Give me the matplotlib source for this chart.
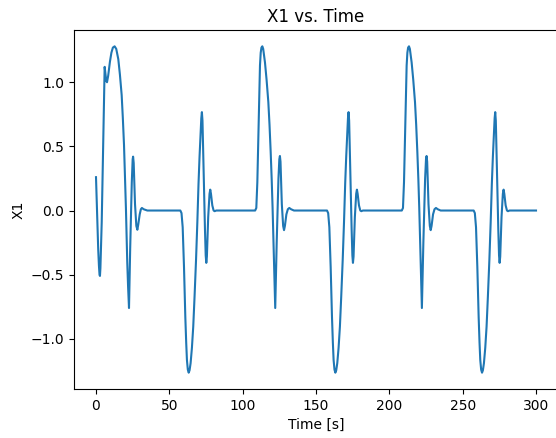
import matplotlib
matplotlib.use("Agg")
import matplotlib.pyplot as plt

# values, one block per event
time_s = [
    # start-up and first positive swing
    0, 0.5, 0.9, 1.5, 2.0, 2.4, 2.7, 3.0, 3.5, 3.9, 4.5, 5.0, 5.5, 5.9, 6.3, 7.0,
    7.5, 8.3, 9.5, 10.5, 11.5, 12.7, 13.8, 15.2, 16.3, 17.5, 18.3, 19.1, 19.8,
    20.4, 20.9, 21.3, 21.9, 22.5, 23.3, 24.4, 25.0, 25.3, 25.7, 26.6, 27.5, 28.2,
    28.8, 29.8, 30.6, 31.3, 32.5, 35,
    # negative swing 1
    57.5, 58.3, 59.1, 60.0, 60.9, 61.5, 62.0, 62.6, 63.2, 63.8, 64.5, 65.4, 66.3,
    67.2, 68.2, 69.1, 69.9, 70.6, 71.3, 71.8, 72.2, 72.6, 73.4, 74.3, 74.8, 75.2,
    75.6, 76.5, 77.4, 77.9, 78.4, 79.3, 80.2, 80.9, 82,
    # positive swing 2
    108.5, 109.3, 110.0, 110.5, 110.9, 111.4, 111.8, 112.3, 112.8, 113.4, 114.0,
    114.6, 115.2, 116.3, 117.5, 118.3, 119.1, 119.8, 120.4, 120.9, 121.3, 121.8,
    122.2, 123.2, 124.4, 125.0, 125.4, 125.8, 126.7, 127.6, 128.2, 128.8, 129.8,
    130.8, 131.8, 133.0, 135.0,
    # negative swing 2
    157.5, 158.3, 159.1, 160.0, 160.9, 161.5, 162.0, 162.6, 163.2, 163.8, 164.5,
    165.4, 166.3, 167.2, 168.2, 169.1, 169.9, 170.6, 171.3, 171.8, 172.2, 172.6,
    173.4, 174.3, 174.8, 175.2, 175.6, 176.5, 177.4, 177.9, 178.4, 179.3, 180.2,
    180.9, 182,
    # positive swing 3
    208.5, 209.3, 210.0, 210.5, 210.9, 211.4, 211.8, 212.3, 212.8, 213.4, 214.0,
    214.6, 215.2, 216.3, 217.5, 218.3, 219.1, 219.8, 220.4, 220.9, 221.3, 221.8,
    222.2, 223.2, 224.4, 225.0, 225.4, 225.8, 226.7, 227.6, 228.2, 228.8, 229.8,
    230.8, 231.8, 233.0, 235.0,
    # negative swing 3
    257.5, 258.3, 259.1, 260.0, 260.9, 261.5, 262.0, 262.6, 263.2, 263.8, 264.5,
    265.4, 266.3, 267.2, 268.2, 269.1, 269.9, 270.6, 271.3, 271.8, 272.2, 272.6,
    273.4, 274.3, 274.8, 275.2, 275.6, 276.5, 277.4, 277.9, 278.4, 279.3, 280.2,
    280.9, 282, 300,
]

x1 = [
    0.26, 0.08, -0.09, -0.30, -0.43, -0.50, -0.51, -0.45, -0.25, -0.09, 0.28, 0.59,
    0.90, 1.12, 1.08, 1.01, 1.00, 1.05, 1.16, 1.23, 1.27, 1.28, 1.26, 1.18, 1.06,
    0.90, 0.72, 0.51, 0.26, 0.02, -0.20, -0.40, -0.60, -0.76, -0.30, 0.22, 0.40,
    0.42, 0.37, 0.05, -0.12, -0.15, -0.11, -0.03, 0.01, 0.02, 0.01, 0.0,
    # negative swing 1
    0.0, -0.02, -0.13, -0.44, -0.83, -1.03, -1.165, -1.24, -1.264, -1.245, -1.19,
    -1.07, -0.905, -0.67, -0.387, -0.09, 0.21, 0.42, 0.60, 0.72, 0.767, 0.70, 0.30,
    -0.15, -0.35, -0.408, -0.36, -0.05, 0.13, 0.163, 0.13, 0.04, 0.0, -0.005, 0.0,
    # positive swing 2
    0.0, 0.02, 0.22, 0.48, 0.72, 0.95, 1.13, 1.23, 1.27, 1.28, 1.26, 1.21, 1.155,
    1.02, 0.845, 0.67, 0.456, 0.24, 0.02, -0.20, -0.40, -0.60, -0.76, -0.25, 0.25,
    0.40, 0.425, 0.38, 0.05, -0.12, -0.153, -0.12, -0.03, 0.01, 0.02, 0.01, 0.0,
    # negative swing 2
    0.0, -0.02, -0.13, -0.44, -0.83, -1.03, -1.165, -1.24, -1.264, -1.245, -1.19,
    -1.07, -0.905, -0.67, -0.387, -0.09, 0.21, 0.42, 0.60, 0.72, 0.767, 0.70, 0.30,
    -0.15, -0.35, -0.408, -0.36, -0.05, 0.13, 0.163, 0.13, 0.04, 0.0, -0.005, 0.0,
    # positive swing 3
    0.0, 0.02, 0.22, 0.48, 0.72, 0.95, 1.13, 1.23, 1.27, 1.28, 1.26, 1.21, 1.155,
    1.02, 0.845, 0.67, 0.456, 0.24, 0.02, -0.20, -0.40, -0.60, -0.76, -0.25, 0.25,
    0.40, 0.425, 0.38, 0.05, -0.12, -0.153, -0.12, -0.03, 0.01, 0.02, 0.01, 0.0,
    # negative swing 3
    0.0, -0.02, -0.13, -0.44, -0.83, -1.03, -1.165, -1.24, -1.264, -1.245, -1.19,
    -1.07, -0.905, -0.67, -0.387, -0.09, 0.21, 0.42, 0.60, 0.72, 0.767, 0.70, 0.30,
    -0.15, -0.35, -0.408, -0.36, -0.05, 0.13, 0.163, 0.13, 0.04, 0.0, -0.005, 0.0,
    0.0,
]

fig = plt.figure(figsize=(5.56, 4.38), dpi=100)
# right spine sits just past the edge of the picture, like the reference crop
ax = fig.add_axes([74 / 556, 1 - 389 / 438, (558 - 74) / 556, (389 - 30) / 438])
ax.plot(time_s, x1, color="#1f77b4", linewidth=1.5)
ax.set_title("X1 vs. Time")
ax.set_xlabel("Time [s]")
ax.set_ylabel("X1")
ax.set_xticks([0, 50, 100, 150, 200, 250, 300])
ax.set_yticks([-1.0, -0.5, 0.0, 0.5, 1.0])

fig.savefig("out.png", dpi=100)
